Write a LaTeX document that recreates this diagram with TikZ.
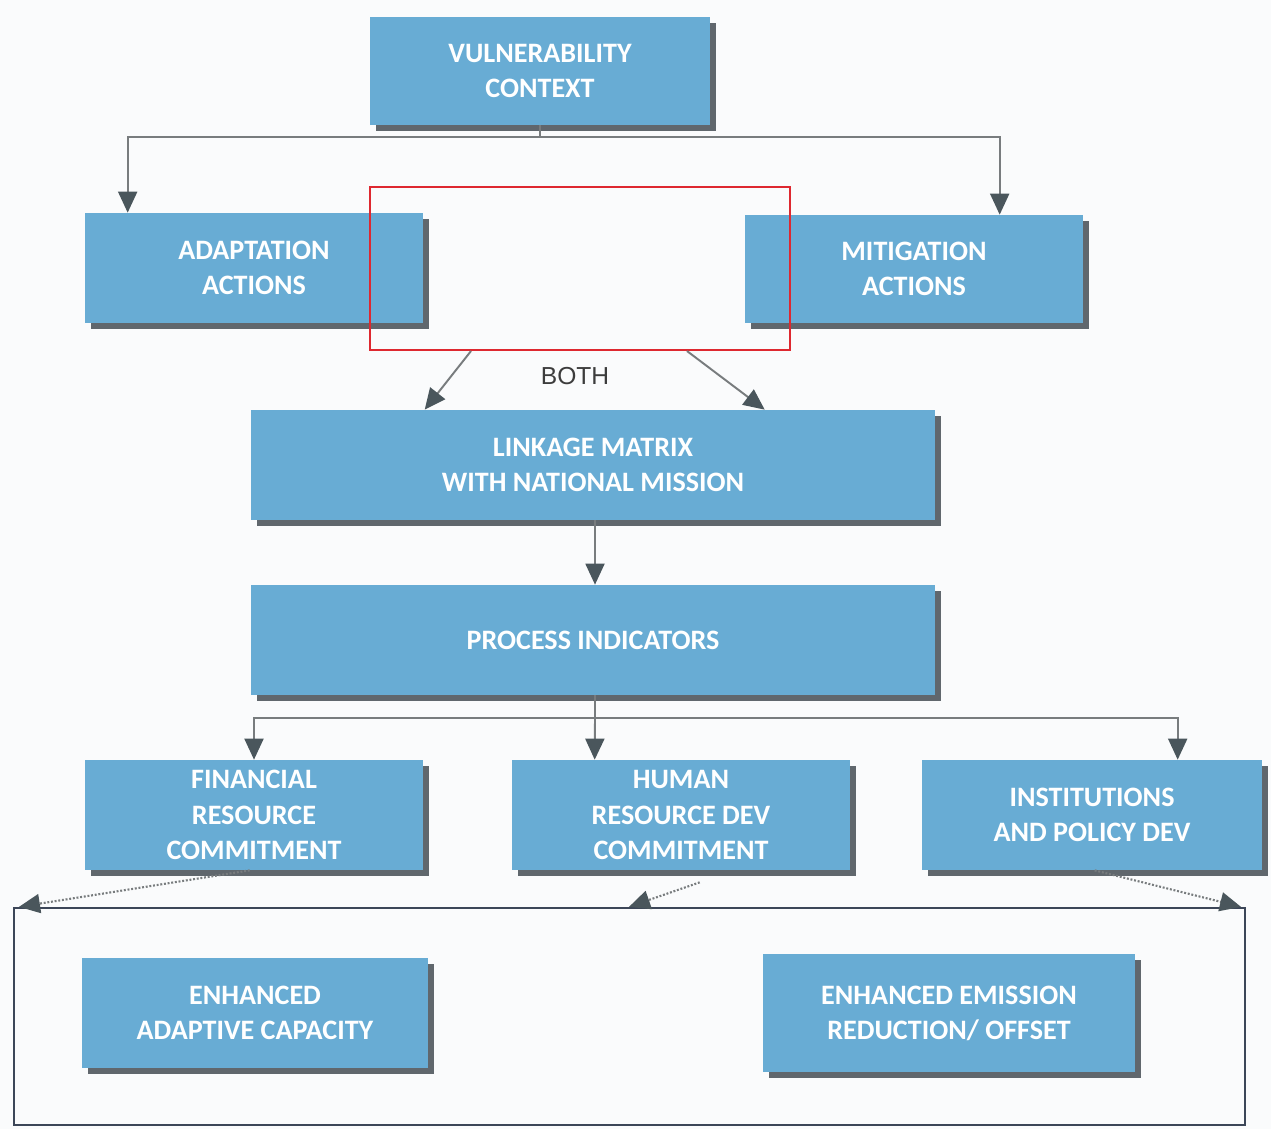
\documentclass[tikz,border=0pt]{standalone}
\usepackage{fontspec}
\setmainfont{Carlito}
\newfontfamily\bothfont{Liberation Sans}
\usetikzlibrary{calc,shadows,arrows.meta}
\definecolor{boxblue}{RGB}{104,172,212}
\definecolor{shadowgray}{RGB}{70,78,84}
\definecolor{linegray}{RGB}{120,124,126}
\definecolor{tipgray}{RGB}{74,86,92}
\definecolor{bg}{RGB}{250,251,252}
\definecolor{outerline}{RGB}{60,70,88}
\begin{document}
\begin{tikzpicture}[x=0.02cm,y=-0.02cm,
  box/.style={fill=boxblue, draw=none, text=white, align=center,
    font=\fontsize{16}{20}\selectfont\bfseries,
    drop shadow={shadow xshift=0.12cm, shadow yshift=-0.12cm, fill=shadowgray, opacity=0.85}},
  conn/.style={draw=linegray, line width=1.1pt},
  arr/.style={conn, -{Triangle[length=0.42cm,width=0.38cm,fill=tipgray,color=tipgray]}},
  darr/.style={arr, densely dotted, line width=1.2pt}]
\fill[bg] (0,0) rectangle (1271,1129);
\useasboundingbox (0,0) rectangle (1271,1129);
% boxes
\node[box, minimum width=6.8cm, minimum height=2.16cm] (vul) at (540,71) {VULNERABILITY\\CONTEXT};
\node[box, minimum width=6.76cm, minimum height=2.2cm] (adapt) at (254,268) {ADAPTATION\\ACTIONS};
\node[box, minimum width=6.76cm, minimum height=2.16cm] (mitig) at (914,269) {MITIGATION\\ACTIONS};
\node[box, minimum width=13.68cm, minimum height=2.2cm] (link) at (593,465) {LINKAGE MATRIX\\WITH NATIONAL MISSION};
\node[box, minimum width=13.68cm, minimum height=2.2cm] (proc) at (593,640) {PROCESS INDICATORS};
\node[box, minimum width=6.76cm, minimum height=2.2cm] (fin) at (254,815) {FINANCIAL\\RESOURCE\\COMMITMENT};
\node[box, minimum width=6.76cm, minimum height=2.2cm] (hum) at (681,815) {HUMAN\\RESOURCE DEV\\COMMITMENT};
\node[box, minimum width=6.8cm, minimum height=2.2cm] (inst) at (1092,815) {INSTITUTIONS\\AND POLICY DEV};
\node[box, minimum width=6.92cm, minimum height=2.2cm] (adcap) at (255,1013) {ENHANCED\\ADAPTIVE CAPACITY};
\node[box, minimum width=7.44cm, minimum height=2.36cm] (emis) at (949,1013) {ENHANCED EMISSION\\REDUCTION/ OFFSET};
% red frame
\node[draw={rgb,255:red,222;green,40;blue,48}, line width=1.2pt, minimum width=8.4cm, minimum height=3.26cm, inner sep=0pt] (redbox) at (580,268.5) {};
\node[font=\bothfont\fontsize{14}{16}\selectfont, text={rgb,255:red,60;green,60;blue,60}] (both) at (575,376) {BOTH};
% outer frame
\node[draw=outerline, line width=1.3pt, minimum width=24.62cm, minimum height=4.34cm, inner sep=0pt] (outer) at (629.5,1016.5) {};
% connectors
\coordinate (j1) at ($(vul.south)+(0,12)$);
\draw[conn] (vul.south) -- (j1);
\draw[arr] (j1) -| ($(adapt.north west)+(43,0)$);
\draw[arr] (j1) -| ($(mitig.north west)+(255,0)$);
\draw[arr] ($(redbox.south west)+(102,0)$) -- ($(link.north west)+(174,0)$);
\draw[arr] ($(redbox.south west)+(318,0)$) -- ($(link.north west)+(514,0)$);
\draw[arr] ($(link.south)+(2,0)$) -- ($(proc.north)+(2,0)$);
\coordinate (j2) at ($(proc.south)+(2,23)$);
\draw[conn] ($(proc.south)+(2,0)$) -- (j2);
\draw[arr] (j2) -| (fin.north);
\draw[arr] (j2) -- ($(hum.north west)+(83,0)$);
\draw[arr] (j2) -| ($(inst.north west)+(256,0)$);
\draw[darr] ($(fin.south west)+(165,0)$) -- ($(outer.north west)+(6,0)$);
\draw[darr] ($(hum.south west)+(188,12)$) -- ($(outer.north west)+(616,0)$);
\draw[darr] ($(inst.south west)+(173,0)$) -- ($(outer.north east)+(-5,0)$);
\end{tikzpicture}
\end{document}
